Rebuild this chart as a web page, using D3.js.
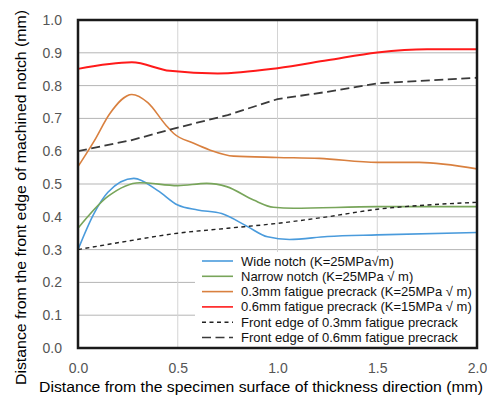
<!DOCTYPE html>
<html><head><meta charset="utf-8">
<script src="https://cdn.jsdelivr.net/npm/d3@7"></script>
<style>body{margin:0;background:#fff}svg{display:block}text{font-family:"Liberation Sans",Arial,sans-serif}</style>
</head><body>
<svg id="c" width="487" height="398"></svg>
<script>
const xTicks = [0, 0.5, 1.0, 1.5, 2.0];
const yTicks = [0, 0.1, 0.2, 0.3, 0.4, 0.5, 0.6, 0.7, 0.8, 0.9, 1.0];

const wideX = [0, 0.08, 0.15, 0.28, 0.4, 0.5, 0.6, 0.72, 0.85, 0.95, 1.06, 1.25, 1.5, 2.0];
const wideY = [0.30, 0.41, 0.475, 0.517, 0.48, 0.436, 0.421, 0.41, 0.37, 0.339, 0.331, 0.34, 0.345, 0.352];
const narrowX = [0, 0.15, 0.31, 0.5, 0.645, 0.745, 0.88, 0.98, 1.08, 1.5, 2.0];
const narrowY = [0.365, 0.462, 0.504, 0.495, 0.502, 0.492, 0.451, 0.429, 0.426, 0.431, 0.431];
const pre03X = [0, 0.08, 0.16, 0.27, 0.35, 0.44, 0.48, 0.58, 0.66, 0.78, 1.0, 1.21, 1.5, 1.71, 2.0];
const pre03Y = [0.553, 0.63, 0.715, 0.773, 0.748, 0.68, 0.654, 0.624, 0.604, 0.585, 0.581, 0.578, 0.566, 0.566, 0.546];
const pre06X = [0, 0.27, 0.46, 0.7, 1.0, 1.25, 1.5, 1.75, 2.0];
const pre06Y = [0.851, 0.871, 0.845, 0.837, 0.853, 0.877, 0.901, 0.911, 0.911];
const edge03X = [0, 0.25, 0.5, 0.75, 1.0, 1.25, 1.5, 1.75, 2.0];
const edge03Y = [0.30, 0.326, 0.35, 0.365, 0.38, 0.40, 0.423, 0.436, 0.444];
const edge06X = [0, 0.27, 0.5, 0.75, 1.0, 1.25, 1.5, 2.0];
const edge06Y = [0.60, 0.634, 0.672, 0.71, 0.759, 0.781, 0.807, 0.824];

const labels = ["Wide notch (K=25MPa\u221am)", "Narrow notch (K=25MPa \u221a m)",
  "0.3mm fatigue precrack (K=25MPa \u221a m)", "0.6mm fatigue precrack (K=15MPa \u221a m)",
  "Front edge of 0.3mm fatigue precrack", "Front edge of 0.6mm fatigue precrack"];

const series = [
  {x: wideX, y: wideY, color: "#4a9bdc", w: 1.6, dash: null, curve: d3.curveMonotoneX},
  {x: narrowX, y: narrowY, color: "#78a55a", w: 1.6, dash: null, curve: d3.curveMonotoneX},
  {x: pre03X, y: pre03Y, color: "#d9803f", w: 1.6, dash: null, curve: d3.curveMonotoneX},
  {x: pre06X, y: pre06Y, color: "#ff1a1a", w: 2, dash: null, curve: d3.curveMonotoneX},
  {x: edge03X, y: edge03Y, color: "#222", w: 1.4, dash: "4,3.5", curve: d3.curveMonotoneX},
  {x: edge06X, y: edge06Y, color: "#3a3a3a", w: 1.8, dash: "9,4.5", curve: d3.curveLinear}
];

const L = 78, R = 477, T = 20, B = 348;
const svg = d3.select("#c");
const x = d3.scaleLinear().domain([0, 2]).range([L, R]);
const y = d3.scaleLinear().domain([0, 1]).range([B, T]);

// gridlines
svg.append("g").selectAll("line").data(yTicks.slice(1, -1)).join("line")
  .attr("x1", L).attr("x2", R).attr("y1", d => y(d)).attr("y2", d => y(d))
  .attr("stroke", "#b5b5b5").attr("stroke-width", 1);
svg.append("g").selectAll("line").data(xTicks.slice(1, -1)).join("line")
  .attr("y1", T).attr("y2", B).attr("x1", d => x(d)).attr("x2", d => x(d))
  .attr("stroke", "#d4d4d4").attr("stroke-width", 1);

// axes (labels only)
const yAxis = svg.append("g").attr("transform", `translate(${L},0)`)
  .call(d3.axisLeft(y).tickValues(yTicks).tickFormat(d3.format(".1f")).tickSize(0).tickPadding(16));
const xAxis = svg.append("g").attr("transform", `translate(0,${B})`)
  .call(d3.axisBottom(x).tickValues(xTicks).tickFormat(d3.format(".1f")).tickSize(0).tickPadding(15));
[yAxis, xAxis].forEach(a => {
  a.select(".domain").remove();
  a.selectAll("text").attr("font-size", 14).attr("fill", "#555").style("font-family", "Liberation Sans, Arial, sans-serif");
});

// lines
series.forEach(s => {
  const pts = s.x.map((v, i) => [v, s.y[i]]);
  svg.append("path").datum(pts)
    .attr("d", d3.line().x(d => x(d[0])).y(d => y(d[1])).curve(s.curve))
    .attr("fill", "none").attr("stroke", s.color).attr("stroke-width", s.w)
    .attr("stroke-dasharray", s.dash);
});

// legend
const lg = svg.append("g");
lg.append("rect").attr("x", 195).attr("y", 252).attr("width", R - 195).attr("height", B - 252).attr("fill", "#fff");
labels.forEach((t, i) => {
  const cy = 261 + i * 15.3;
  const s = series[i];
  lg.append("line").attr("x1", 202).attr("x2", 233).attr("y1", cy).attr("y2", cy)
    .attr("stroke", s.color).attr("stroke-width", i >= 4 ? 1.4 : 1.6).attr("stroke-dasharray", s.dash);
  lg.append("text").attr("x", 241).attr("y", cy + 4.5).attr("font-size", 13).attr("fill", "#111").text(t);
});

// border
svg.append("rect").attr("x", L).attr("y", T).attr("width", R - L).attr("height", B - T)
  .attr("fill", "none").attr("stroke", "#1a1a1a").attr("stroke-width", 2.5);

// titles
svg.append("text").attr("x", 39).attr("y", 392).attr("font-size", 15.5).attr("fill", "#000")
  .attr("textLength", 444).attr("lengthAdjust", "spacingAndGlyphs")
  .text("Distance from the specimen surface of thickness direction (mm)");
svg.append("text").attr("transform", "translate(26,197.5) rotate(-90)").attr("text-anchor", "middle")
  .attr("font-size", 15).attr("fill", "#000")
  .attr("textLength", 375).attr("lengthAdjust", "spacingAndGlyphs")
  .text("Distance from the front edge of machined notch (mm)");
</script>
</body></html>
